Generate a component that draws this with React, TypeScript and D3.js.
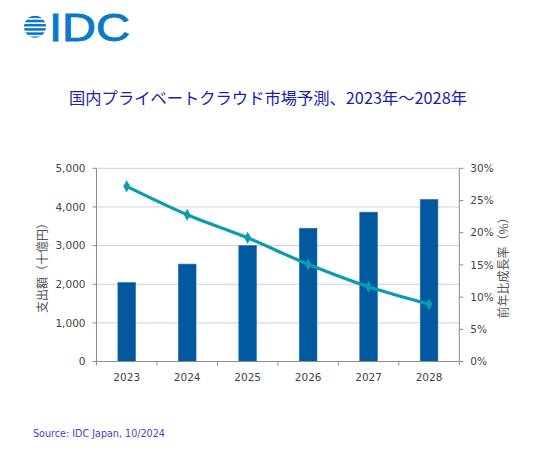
import React from "react";
import * as d3 from "d3";

const years = ["2023", "2024", "2025", "2026", "2027", "2028"];
const spending = [2045, 2521, 3000, 3449, 3865, 4195];
const growth = [27.2, 22.8, 19.2, 15.1, 11.6, 8.9];
const leftTicks = [0, 1000, 2000, 3000, 4000, 5000];
const rightTicks = [0, 5, 10, 15, 20, 25, 30];
const title = "国内プライベートクラウド市場予測、2023年～2028年";
const leftTitle = "支出額（十億円）";
const rightTitle = "前年比成長率（%）";
const source = "Source: IDC Japan, 10/2024";

const W = 545;
const H = 459;
const plot = { left: 96.5, right: 459.3, top: 168.3, bottom: 361.5 };

const latin = "'DejaVu Sans', Verdana, sans-serif";
const cjk = "'Noto Sans CJK JP', 'Noto Sans', sans-serif";

export default function App() {
  const x = d3.scaleBand<string>().domain(years).range([plot.left, plot.right]).paddingInner(0).paddingOuter(0);
  const yL = d3.scaleLinear().domain([0, 5000]).range([plot.bottom, plot.top]);
  const yR = d3.scaleLinear().domain([0, 30]).range([plot.bottom, plot.top]);
  const barW = 17.7;
  const fmt = d3.format(",");
  const line = d3
    .line<number>()
    .x((_, i) => (x(years[i]) as number) + x.bandwidth() / 2)
    .y((d) => yR(d))
    .curve(d3.curveCatmullRom.alpha(0.5));
  const boundaries = years.map((y) => x(y) as number).concat([plot.right]);
  const diamond = d3.symbol().type(d3.symbolDiamond).size(42)();

  const stripeYs = d3.range(0, 6).map((i) => 15.5 + i * 4.2);

  return (
    <svg width={W} height={H} style={{ position: "absolute", left: 0, top: 0, background: "#fff" }}>
      <defs>
        <clipPath id="globe">
          <circle cx={35} cy={26.7} r={11} />
        </clipPath>
      </defs>
      {/* Logo */}
      <g clipPath="url(#globe)">
        {stripeYs.map((sy, i) => (
          <rect key={i} x={20} y={sy} width={30} height={2.6} fill="#0a7ac8" />
        ))}
      </g>
      <text
        x={49}
        y={40.7}
        fontFamily="'Liberation Sans', Arial, sans-serif"
        fontSize={39}
        fill="#0a7ac8"
        stroke="#0a7ac8"
        strokeWidth={0.9}
        textLength={81}
        lengthAdjust="spacingAndGlyphs"
      >
        IDC
      </text>

      {/* Title */}
      <text x={268} y={104} textAnchor="middle" fontFamily={cjk} fontSize={16.3} fill="#1a22ac">
        {title}
      </text>

      {/* Gridlines */}
      {leftTicks.filter((t) => t > 0).map((t) => (
        <line key={t} x1={plot.left} x2={plot.right} y1={yL(t)} y2={yL(t)} stroke="#d0d0d0" strokeWidth={1} />
      ))}

      {/* Bars */}
      {spending.map((v, i) => {
        const cx = (x(years[i]) as number) + x.bandwidth() / 2;
        return (
          <rect
            key={i}
            x={cx - barW / 2}
            y={yL(v)}
            width={barW}
            height={yL(0) - yL(v)}
            fill="#00599f"
            stroke="#2a74b4"
            strokeWidth={0.6}
          />
        );
      })}

      {/* Axes */}
      <line x1={plot.left} x2={plot.left} y1={plot.top} y2={plot.bottom} stroke="#8c8c8c" />
      <line x1={plot.right} x2={plot.right} y1={plot.top} y2={plot.bottom} stroke="#8c8c8c" />
      <line x1={plot.left} x2={plot.right} y1={plot.bottom} y2={plot.bottom} stroke="#8c8c8c" />
      {leftTicks.map((t) => (
        <g key={t}>
          <line x1={plot.left - 4} x2={plot.left} y1={yL(t)} y2={yL(t)} stroke="#8c8c8c" />
          <text x={plot.left - 11} y={yL(t)} dy="0.36em" textAnchor="end" fontFamily={latin} fontSize={10.5} fill="#444">
            {fmt(t)}
          </text>
        </g>
      ))}
      {rightTicks.map((t) => (
        <g key={t}>
          <line x1={plot.right} x2={plot.right + 4} y1={yR(t)} y2={yR(t)} stroke="#8c8c8c" />
          <text x={plot.right + 11} y={yR(t)} dy="0.36em" textAnchor="start" fontFamily={latin} fontSize={10.5} fill="#444">
            {t}%
          </text>
        </g>
      ))}
      {boundaries.map((b, i) => (
        <line key={i} x1={b} x2={b} y1={plot.bottom} y2={plot.bottom + 4} stroke="#8c8c8c" />
      ))}
      {years.map((y) => (
        <text
          key={y}
          x={(x(y) as number) + x.bandwidth() / 2}
          y={377}
          dy="0.36em"
          textAnchor="middle"
          fontFamily={latin}
          fontSize={10.5}
          fill="#444"
        >
          {y}
        </text>
      ))}

      {/* Growth line */}
      <path d={line(growth) as string} fill="none" stroke="#0a9db0" strokeWidth={3.2} />
      {growth.map((g, i) => (
        <path
          key={i}
          d={diamond as string}
          transform={`translate(${(x(years[i]) as number) + x.bandwidth() / 2},${yR(g)})`}
          fill="#0a9db0"
        />
      ))}

      {/* Axis titles */}
      <text
        transform={`translate(47,${(plot.top + plot.bottom) / 2}) rotate(-90)`}
        textAnchor="middle"
        fontFamily={cjk}
        fontSize={12}
        fill="#555"
      >
        {leftTitle}
      </text>
      <text
        transform={`translate(508,${(plot.top + plot.bottom) / 2}) rotate(-90)`}
        textAnchor="middle"
        fontFamily={cjk}
        fontSize={12}
        fill="#555"
      >
        {rightTitle}
      </text>

      {/* Source */}
      <text x={33} y={437} fontFamily={latin} fontSize={9.6} fill="#4545c8">
        {source}
      </text>
    </svg>
  );
}
